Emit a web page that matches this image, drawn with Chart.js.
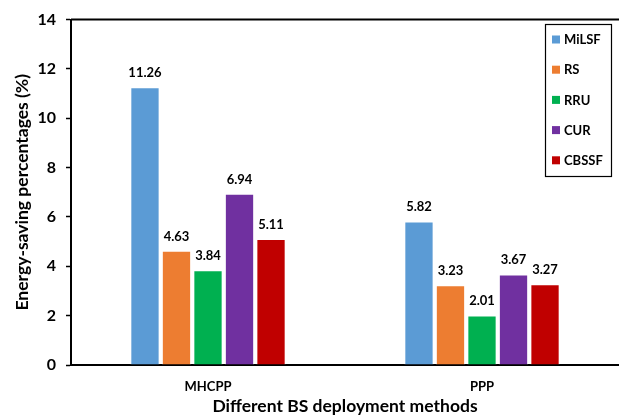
<!DOCTYPE html>
<html>
<head>
<meta charset="utf-8">
<script src="https://cdn.jsdelivr.net/npm/chart.js@4.4.1/dist/chart.umd.min.js"></script>
<style>
  html, body { margin: 0; padding: 0; background: #fff; }
  #wrap { width: 619px; height: 417px; position: relative; }
</style>
</head>
<body>
<div id="wrap"><canvas id="c" width="619" height="417"></canvas></div>
<script>
// Deployment methods on the x axis
const categories = ['MHCPP', 'PPP'];

// Energy-saving percentage per scheme
const schemes = ['MiLSF', 'RS', 'RRU', 'CUR', 'CBSSF'];
const milsf = [11.26, 5.82];
const rs    = [4.63, 3.23];
const rru   = [3.84, 2.01];
const cur   = [6.94, 3.67];
const cbssf = [5.11, 3.27];

const yTicks = [0, 2, 4, 6, 8, 10, 12, 14];

const colors = ['#5B9BD5', '#ED7D31', '#00B050', '#7030A0', '#C00000'];
const seriesValues = [milsf, rs, rru, cur, cbssf];

const FONT = 'Lato, "Open Sans", "DejaVu Sans", sans-serif';
const W = 'bold';

// Value labels above each bar
const valueLabels = {
  id: 'valueLabels',
  afterDatasetsDraw(chart) {
    const ctx = chart.ctx;
    ctx.save();
    ctx.font = W + ' 13px ' + FONT;
    ctx.fillStyle = '#000';
    ctx.textAlign = 'center';
    ctx.textBaseline = 'alphabetic';
    chart.data.datasets.forEach((ds, i) => {
      chart.getDatasetMeta(i).data.forEach((bar, j) => {
        ctx.fillText(ds.data[j].toFixed(2), bar.x, bar.y - 10);
      });
    });
    ctx.restore();
  }
};

// Frame lines and boxed legend
const frameAndLegend = {
  id: 'frameAndLegend',
  afterDraw(chart) {
    const ctx = chart.ctx;
    const a = chart.chartArea;
    ctx.save();
    ctx.strokeStyle = '#000';
    ctx.lineWidth = 2;
    ctx.beginPath();
    ctx.moveTo(a.left, a.top);
    ctx.lineTo(chart.width, a.top);
    ctx.stroke();

    // legend box
    const bx = 545.5, by = 24.5, bw = 66, bh = 152;
    ctx.lineWidth = 1.2;
    ctx.fillStyle = '#fff';
    ctx.fillRect(bx, by, bw, bh);
    ctx.strokeRect(bx, by, bw, bh);
    ctx.font = W + ' 13px ' + FONT;
    ctx.textBaseline = 'middle';
    ctx.textAlign = 'left';
    chart.data.datasets.forEach((ds, i) => {
      const cy = 39.5 + i * 30.2;
      ctx.fillStyle = ds.backgroundColor;
      ctx.fillRect(552, cy - 4, 8, 8);
      ctx.fillStyle = '#000';
      ctx.fillText(ds.label, 564, cy + 0.5);
    });
    ctx.restore();
  }
};

new Chart(document.getElementById('c'), {
  type: 'bar',
  data: {
    labels: categories,
    datasets: schemes.map((name, i) => ({
      label: name,
      data: seriesValues[i],
      backgroundColor: colors[i],
      borderColor: 'rgba(255,255,255,0.6)',
      borderWidth: 1,
      categoryPercentage: 0.575,
      barPercentage: 0.93
    }))
  },
  options: {
    responsive: false,
    animation: false,
    layout: { padding: { top: 17, right: 0, left: 0, bottom: 0 } },
    plugins: {
      legend: { display: false },
      tooltip: { enabled: false }
    },
    scales: {
      x: {
        grid: { display: false, drawTicks: false },
        border: { color: '#000', width: 2 },
        ticks: { color: '#000', font: { family: FONT, weight: W, size: 13 }, padding: 14 },
        title: {
          display: true,
          text: 'Different BS deployment methods',
          color: '#000',
          font: { family: FONT, weight: W, size: 17.5 },
          padding: { top: 0, bottom: 0 }
        },
        afterFit(scale) { scale.height = 52; }
      },
      y: {
        min: 0,
        max: 14,
        afterBuildTicks(scale) { scale.ticks = yTicks.map(v => ({ value: v })); },
        grid: { display: true, drawOnChartArea: false, drawTicks: true, tickLength: 5, color: '#000', tickWidth: 1.5 },
        border: { color: '#000', width: 2 },
        ticks: { color: '#000', font: { family: FONT, weight: W, size: 16 }, padding: 10 },
        title: {
          display: true,
          text: 'Energy-saving percentages (%)',
          color: '#000',
          font: { family: FONT, weight: W, size: 17.5 },
          padding: { top: 12, bottom: 0 }
        },
        afterFit(scale) { scale.width = 71; }
      }
    }
  },
  plugins: [valueLabels, frameAndLegend]
});
</script>
</body>
</html>
